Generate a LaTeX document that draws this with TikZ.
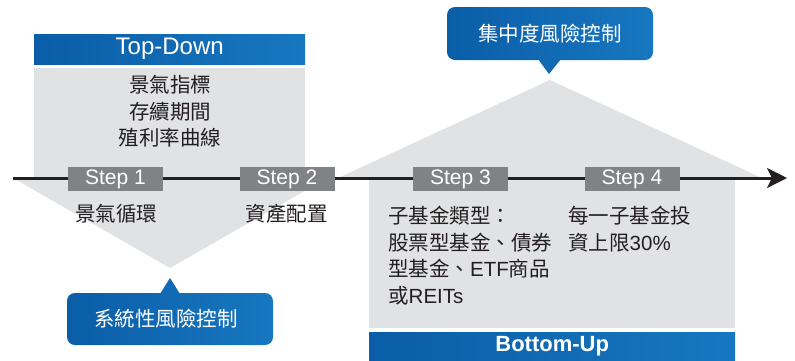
\documentclass[tikz,border=0pt]{standalone}
\usepackage{fontspec}
\setmainfont{Liberation Sans}
\newfontfamily\cj{Noto Sans CJK TC}
\usetikzlibrary{arrows.meta}
\definecolor{gbg}{HTML}{E1E2E4}
\definecolor{stepg}{HTML}{808285}
\definecolor{txt}{HTML}{231F20}
\definecolor{blueL}{HTML}{0B5DA7}
\definecolor{blueR}{HTML}{1777C0}
\definecolor{blueM}{HTML}{116AB4}
\newcommand\latn[1]{{\rmfamily #1}}
\begin{document}
\begin{tikzpicture}[x=1pt,y=-1pt,
  bluebar/.style={left color=blueL,right color=blueR,draw=none,text=white,inner sep=0pt},
  stepbox/.style={fill=stepg,text=white,minimum width=95pt,minimum height=24pt,inner sep=0pt,font=\fontsize{21}{21}\selectfont},
  cjtext/.style={text=txt,font=\cj\fontsize{20.5}{24}\selectfont,inner sep=0pt},
  calltext/.style={font=\cj\fontsize{20.5}{24}\selectfont}]
\useasboundingbox (0,0) rectangle (795,360);
% grey areas
\fill[gbg] (34,68) rectangle (305,178);
\fill[gbg] (13,178) -- (327,178) -- (170,268) -- cycle;
\fill[gbg] (338,178) -- (550,80) -- (762,178) -- cycle;
\fill[gbg] (369,178) rectangle (735,328);
% header bars
\node[bluebar,minimum width=271pt,minimum height=30pt,anchor=north west,font=\fontsize{24}{24}\selectfont] (td) at (34,34) {Top-Down};
\node[bluebar,minimum width=366pt,minimum height=28pt,anchor=north west,font=\bfseries\fontsize{22}{22}\selectfont] (bu) at (369,332) {Bottom-Up};
% axis
\coordinate (ax0) at (13,178);
\coordinate (ax1) at (787,178);
\draw[line width=3pt,txt,-{Stealth[length=20pt,width=20pt,inset=5pt]}] (ax0) -- (ax1);
% steps
\node[stepbox] (s1) at (115.5,179) {Step 1};
\node[stepbox] (s2) at (287,179) {Step 2};
\node[stepbox] (s3) at (460.5,179) {Step 3};
\node[stepbox] (s4) at (632,179) {Step 4};
% top-down content
\node[cjtext,anchor=base] (t1) at (170,92) {景氣指標};
\node[cjtext,anchor=base] (t2) at (170,119) {存續期間};
\node[cjtext,anchor=base] (t3) at (170,145.5) {殖利率曲線};
% step texts
\node[cjtext,anchor=base] (a1) at (116,221) {景氣循環};
\node[cjtext,anchor=base] (a2) at (286.5,221) {資產配置};
\node[cjtext,anchor=base west] (b1) at (388,223) {子基金類型：};
\node[cjtext,anchor=base west] (b2) at (388,250) {股票型基金、債券};
\node[cjtext,anchor=base west] (b3) at (388,276.5) {型基金、\latn{ETF}商品};
\node[cjtext,anchor=base west] (b4) at (388,303) {或\latn{REITs}};
\node[cjtext,anchor=base west] (c1) at (568,223) {每一子基金投};
\node[cjtext,anchor=base west] (c2) at (568,250) {資上限\latn{30\%}};
% callouts
\fill[blueM] (538,59) -- (549,74) -- (561,59) -- cycle;
\node[bluebar,rounded corners=8pt,minimum width=206pt,minimum height=53pt,calltext] (cc) at (550,33.5) {集中度風險控制};
\fill[blueM] (160,294) -- (170,278) -- (180,294) -- cycle;
\node[bluebar,rounded corners=8pt,minimum width=206pt,minimum height=52pt,calltext] (sc) at (170,319) {\hspace*{-8pt}系統性風險控制};
\end{tikzpicture}
\end{document}
